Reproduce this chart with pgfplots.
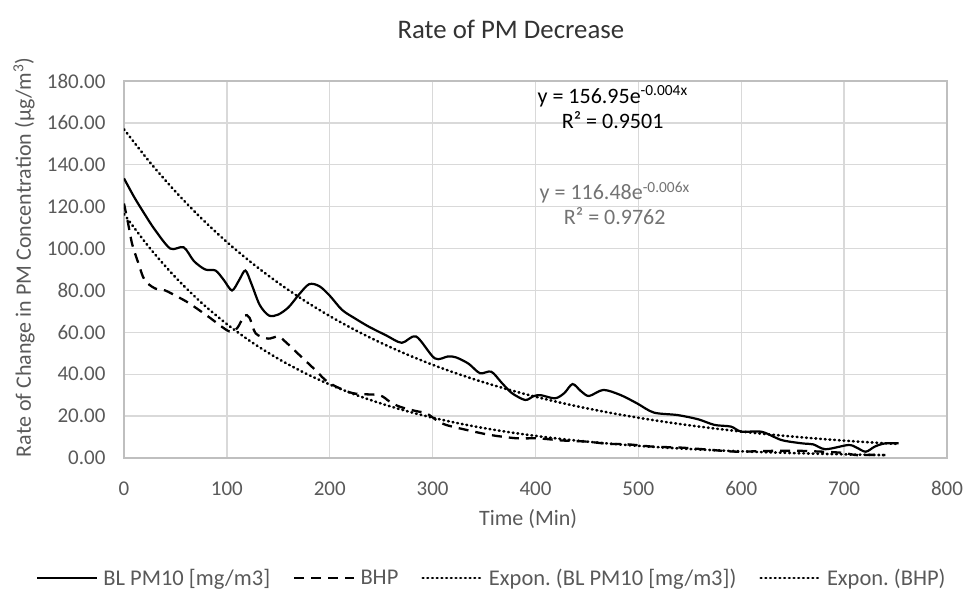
\documentclass[border=0pt]{standalone}
\usepackage{pgfplots}
\pgfplotsset{compat=1.18}
\usepackage{fontspec}
\setmainfont{Carlito}
\frenchspacing
\definecolor{txt}{HTML}{595959}
\definecolor{gridc}{HTML}{D9D9D9}
\definecolor{axc}{HTML}{BFBFBF}
\begin{document}
\begin{tikzpicture}
\useasboundingbox (-124pt,-141pt) rectangle (841pt,458pt);
\begin{axis}[
  at={(0,0)}, anchor=south west,
  scale only axis, width=823pt, height=377pt,
  xmin=0, xmax=800, ymin=0, ymax=180,
  xtick distance=100, ytick distance=20,
  grid=major, major grid style={gridc, line width=1.3pt},
  axis line style={axc, line width=1.3pt},
  major tick length=0pt,
  tick label style={font=\fontsize{21}{25}\selectfont, text=txt},
  /pgf/number format/assume math mode=true,
  yticklabel style={/pgf/number format/fixed, /pgf/number format/fixed zerofill, /pgf/number format/precision=2, xshift=-15pt},
  xticklabel style={yshift=-20pt},
  xlabel={Time (Min)},
  ylabel={Rate of Change in PM Concentration (µg/m\textsuperscript{3})},
  label style={font=\fontsize{22}{25}\selectfont, text=txt},
  xlabel style={at={(axis description cs:0.491,-0.1618)}, anchor=center},
  ylabel style={at={(axis description cs:-0.1215,0.532)}, anchor=center},
  title={Rate of PM Decrease},
  title style={at={(axis description cs:0.470,1.122)}, anchor=center, font=\fontsize{26.8}{30}\selectfont, text=black!80},
  legend columns=4,
  legend style={at={(axis description cs:0.447,-0.318)}, anchor=center, draw=none, fill=none,
    font=\fontsize{22.5}{26}\selectfont, text=txt,
    /tikz/every even column/.append style={column sep=21pt},
    /tikz/every odd column/.append style={column sep=3pt}},
  legend image code/.code={\draw[#1] (0pt,0pt) -- (60pt,0pt);},
]
\addplot[black, line width=2.2pt, smooth] coordinates {
(0,133.5) (10,124.5) (20,116.5) (30,109) (45,100) (58,100.6) (68,94) (79,90) (89,89.5)
(97,85) (105,80) (112,85) (118,89.5) (124,83) (132,73) (141,68) (150,68.5) (160,72)
(170,78) (180,83) (190,82) (200,77.5) (212,70.7) (225,66.5) (238,62.7) (255,58.5)
(270,55) (284,58) (302,47.6) (315,48.5) (323,48) (335,45) (346,40.5) (357,41.2)
(367,36) (377,31) (390,27.7) (398,29.5) (405,30) (419,28.5) (428,31) (436,35.3)
(444,32) (452,29.6) (466,32.5) (483,30) (499,26) (515,21.7) (538,20.5) (558,18.5)
(574,15.8) (590,15) (600,12.6) (620,12.5) (639,8.6) (659,7) (670,6.5) (682,4.2)
(704,6.2) (712,5) (721,3) (730,5.5) (740,7) (753,7)
};
\addlegendentry{BL PM10 [mg/m3]}
\addplot[black, line width=2.3pt, dash pattern=on 10pt off 7pt, smooth] coordinates {
(0,121.5) (4,112) (8,102) (14,93) (20,85) (30,81) (40,80) (52,77) (63,74) (82,67.5)
(102,60.5) (110,62) (117,68) (122,67) (128,59.5) (140,57) (150,58) (158,55) (167,50.8)
(186,42) (199,36) (222,31) (248,30) (258,27) (268,24.5) (283,22.5) (294,21.3) (304,18)
(313,15.8) (333,13.4) (356,11) (382,9.4) (402,9.4) (425,8.4) (450,7.8) (470,6.8)
(490,6.5) (515,5.4) (540,5) (560,4.3) (580,3.5) (597,3) (620,3.3) (650,3.5) (680,3)
(700,2.4) (711,1.4) (725,1.5) (740,1.4)
};
\addlegendentry{BHP}
\addplot[black, line width=2.6pt, line cap=round, dash pattern=on 0.8pt off 3.9pt, smooth] coordinates {
(0,156.95) (25,141.31) (50,127.22) (75,114.54) (100,103.12) (125,92.85) (150,83.59)
(175,75.26) (200,67.76) (225,61.00) (250,54.92) (275,49.45) (300,44.52) (325,40.08)
(350,36.09) (375,32.49) (400,29.25) (425,26.34) (450,23.71) (475,21.35) (500,19.22)
(525,17.30) (550,15.58) (575,14.03) (600,12.63) (625,11.37) (650,10.24) (675,9.22)
(700,8.30) (725,7.47) (750,6.73)
};
\addlegendentry{Expon. (BL PM10 [mg/m3])}
\addplot[black, line width=2.6pt, line cap=round, dash pattern=on 0.8pt off 3.9pt, smooth] coordinates {
(0,116.48) (25,100.26) (50,86.29) (75,74.27) (100,63.93) (125,55.02) (150,47.36)
(175,40.76) (200,35.08) (225,30.20) (250,25.99) (275,22.37) (300,19.25) (325,16.57)
(350,14.26) (375,12.28) (400,10.57) (425,9.09) (450,7.83) (475,6.74) (500,5.80)
(525,4.99) (550,4.30) (575,3.70) (600,3.18) (625,2.74) (650,2.36) (675,2.03)
(700,1.75) (725,1.50) (740,1.37)
};
\addlegendentry{Expon. (BHP)}
\node[font=\fontsize{22}{25}\selectfont, text=black, align=center, inner sep=1pt] at (axis cs:475,167.5)
  {y = 156.95e\textsuperscript{-0.004x}\\R² = 0.9501};
\node[font=\fontsize{22}{25}\selectfont, text=black!55, align=center, inner sep=1pt] at (axis cs:477,121.5)
  {y = 116.48e\textsuperscript{-0.006x}\\R² = 0.9762};
\end{axis}
\end{tikzpicture}
\end{document}
